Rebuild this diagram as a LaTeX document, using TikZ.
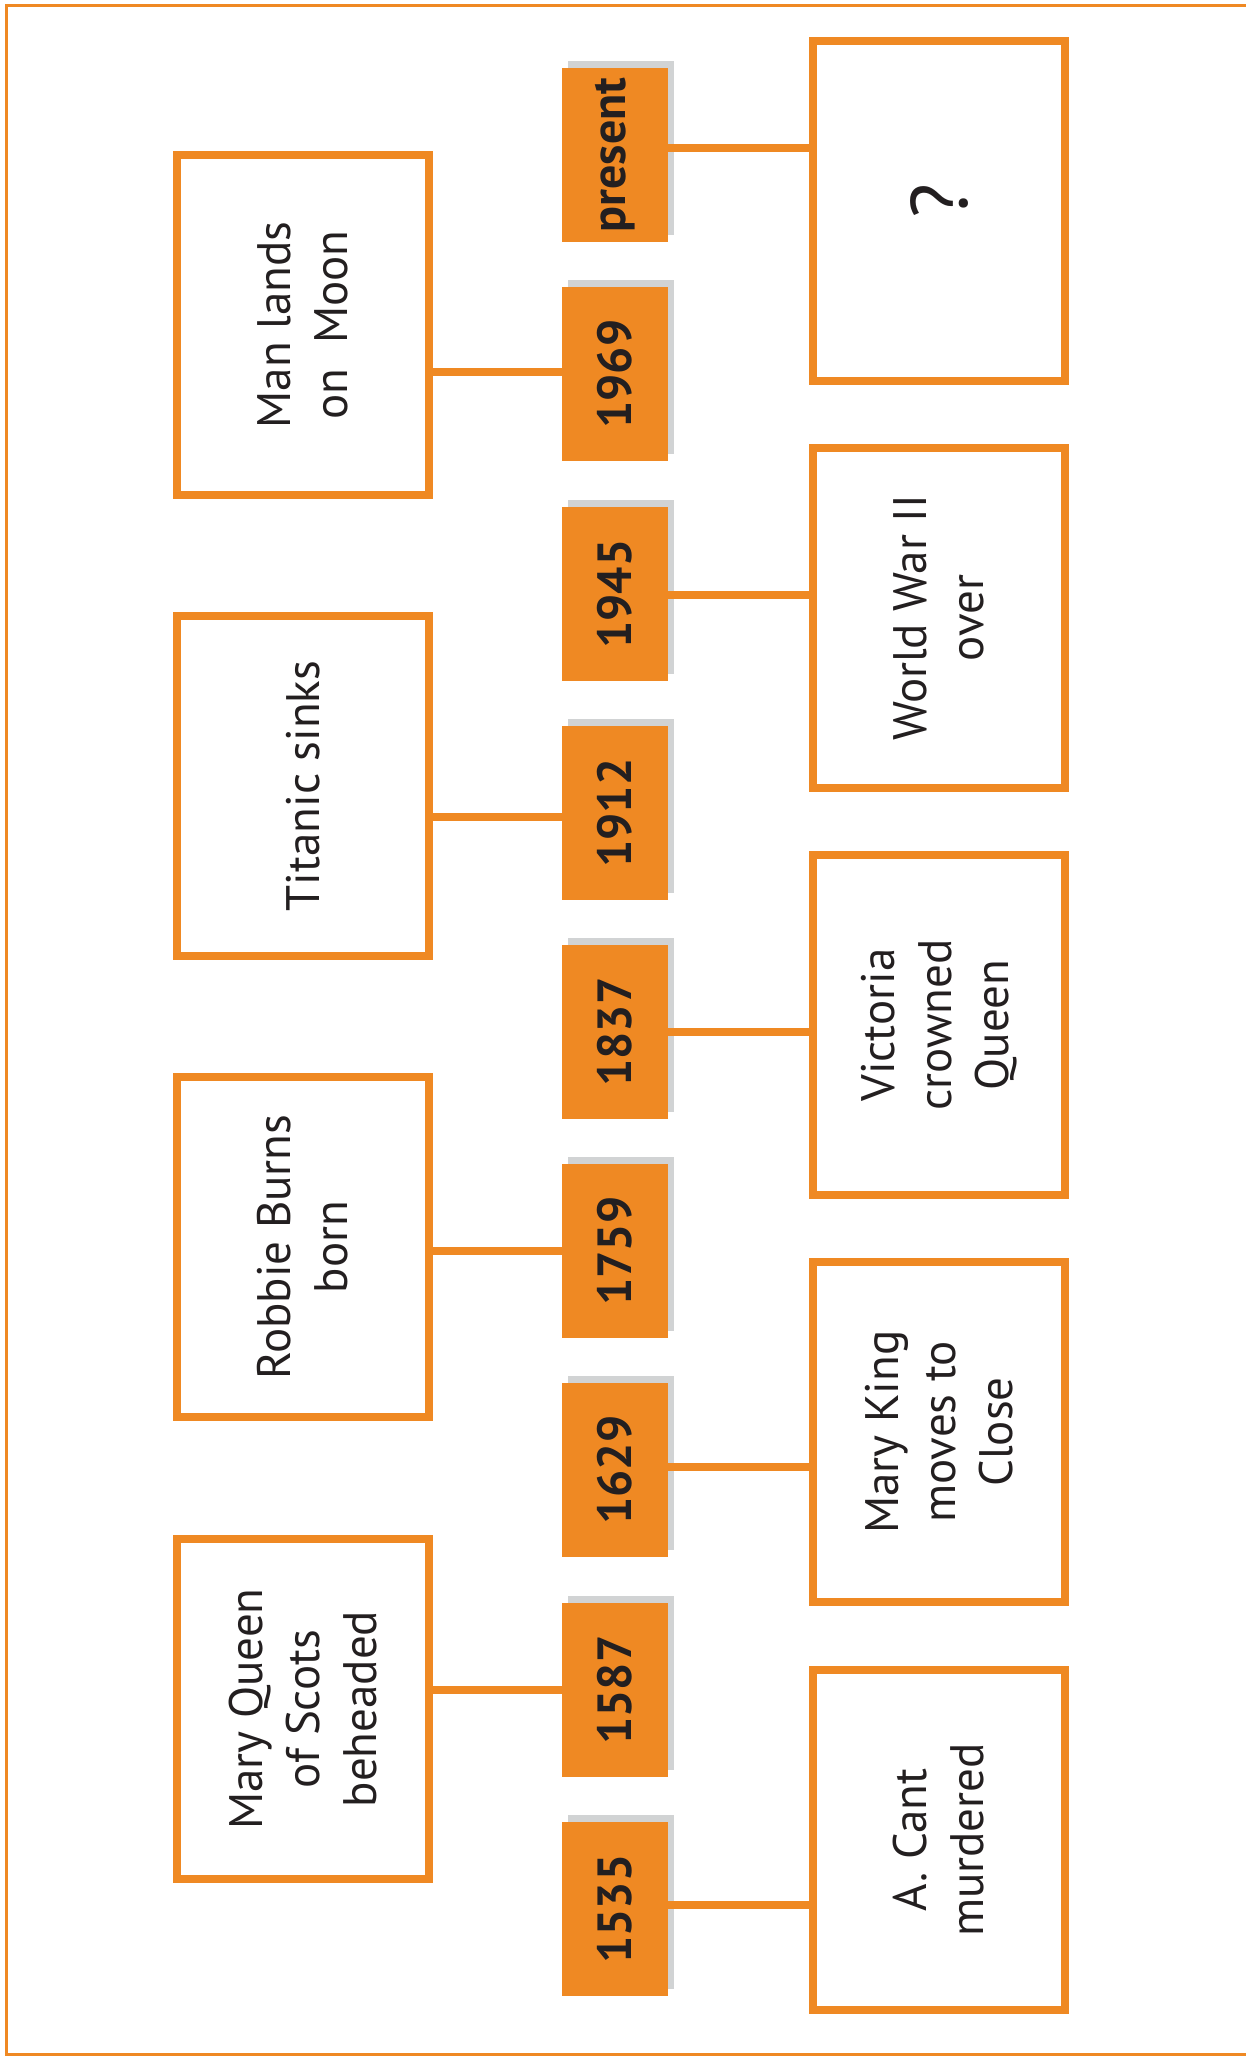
\documentclass[tikz,border=0pt]{standalone}
\usepackage{fontspec}
\setmainfont{PT Sans}
\usetikzlibrary{shadows}
\definecolor{orng}{RGB}{239,137,35}
\definecolor{shd}{RGB}{209,211,212}
\definecolor{ink}{RGB}{35,31,32}
\newcommand\vtext[1]{\rotatebox{90}{\vbox{\halign{\hfil##\hfil\cr#1\crcr}}}}
\begin{document}
\begin{tikzpicture}[x=1pt,y=-1pt,
  evbox/.style={draw=orng, line width=8pt, fill=white, minimum width=252pt, minimum height=340pt, inner sep=0pt, font=\fontsize{47}{57}\selectfont, text=ink},
  yrbox/.style={fill=orng, minimum width=106pt, minimum height=174pt, inner sep=0pt, font=\fontsize{48}{57}\selectfont\bfseries, text=ink,
     drop shadow={shadow xshift=6pt, shadow yshift=7pt, fill=shd, opacity=1}},
  conn/.style={draw=orng, line width=8pt},
  frameline/.style={draw=orng, line width=3pt}]
\useasboundingbox (0,0) rectangle (1246,2060);
\draw[frameline] (1260,6) -- (6.5,6) -- (6.5,2054.5) -- (1260,2054.5);
% event boxes, left column
\node[evbox] (e1) at (303,325) {\vtext{Man lands\cr on\ \ Moon}};
\node[evbox] (e2) at (303,786) {\vtext{Titanic sinks}};
\node[evbox] (e3) at (303,1247) {\vtext{Robbie Burns\cr born}};
\node[evbox] (e4) at (303,1709) {\vtext{Mary Queen\cr of Scots\cr beheaded}};
% event boxes, right column
\node[evbox] (r0) at (939,211) {\fontsize{80}{90}\selectfont\rotatebox{90}{\hspace*{20pt}?}};
\node[evbox] (r1) at (939,618) {\vtext{World War II\cr over}};
\node[evbox] (r2) at (939,1025) {\vtext{Victoria\cr crowned\cr Queen}};
\node[evbox] (r3) at (939,1432) {\vtext{Mary King\cr moves to\cr Close}};
\node[evbox] (r4) at (939,1840) {\vtext{A. Cant\cr murdered}};
% year boxes
\node[yrbox] (ypr) at (615,155) {\rotatebox{90}{present}};
\node[yrbox] (y69) at (615,374) {\rotatebox{90}{1969}};
\node[yrbox] (y45) at (615,594) {\rotatebox{90}{1945}};
\node[yrbox] (y12) at (615,813) {\rotatebox{90}{1912}};
\node[yrbox] (y37) at (615,1032) {\rotatebox{90}{1837}};
\node[yrbox] (y59) at (615,1251) {\rotatebox{90}{1759}};
\node[yrbox] (y29) at (615,1470) {\rotatebox{90}{1629}};
\node[yrbox] (y87) at (615,1690) {\rotatebox{90}{1587}};
\node[yrbox] (y35) at (615,1909) {\rotatebox{90}{1535}};
% connectors
\draw[conn] ([yshift=7pt]ypr.east) -- ([yshift=7pt]ypr.east -| r0.west);
\draw[conn] ([yshift=2pt]y69.west) -- ([yshift=2pt]y69.west -| e1.east);
\draw[conn] ([yshift=-1pt]y45.east) -- ([yshift=-1pt]y45.east -| r1.west);
\draw[conn] ([yshift=-4pt]y12.west) -- ([yshift=-4pt]y12.west -| e2.east);
\draw[conn] (y37.east) -- (y37.east -| r2.west);
\draw[conn] (y59.west) -- (y59.west -| e3.east);
\draw[conn] ([yshift=3pt]y29.east) -- ([yshift=3pt]y29.east -| r3.west);
\draw[conn] (y87.west) -- (y87.west -| e4.east);
\draw[conn] ([yshift=4pt]y35.east) -- ([yshift=4pt]y35.east -| r4.west);
\end{tikzpicture}
\end{document}
